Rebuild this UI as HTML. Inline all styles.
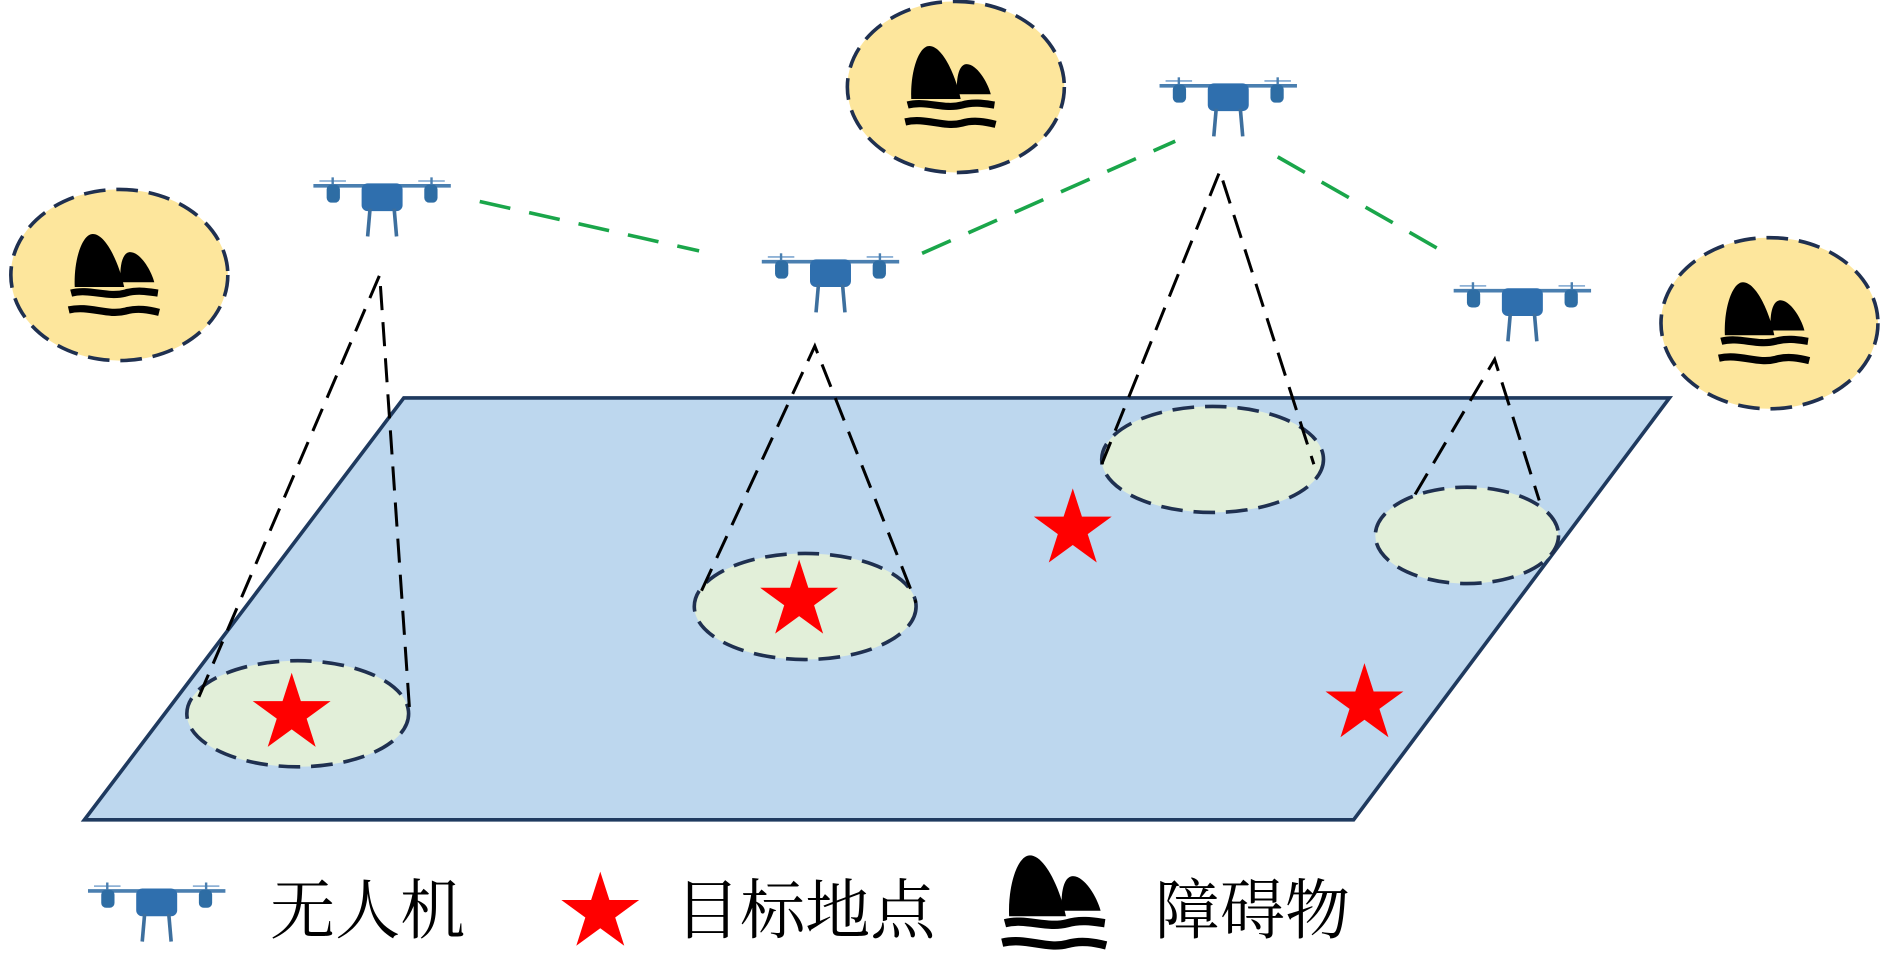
<!DOCTYPE html>
<html><head><meta charset="utf-8"><style>
html,body{margin:0;padding:0;background:#fff;width:1890px;height:955px;overflow:hidden}
svg{display:block}
text{font-family:"Liberation Serif","Noto Serif CJK SC",serif;}
</style></head><body>
<svg width="1890" height="955" viewBox="0 0 1568 792" xmlns="http://www.w3.org/2000/svg">
<defs>
<g id="drone">
  <line x1="-57" y1="-9" x2="57" y2="-9" stroke="#4a7fb0" stroke-width="3"/>
  <line x1="-52" y1="-13" x2="-30" y2="-13" stroke="#8fb2d6" stroke-width="1.5"/>
  <line x1="30" y1="-13" x2="52" y2="-13" stroke="#8fb2d6" stroke-width="1.5"/>
  <line x1="-41" y1="-16" x2="-41" y2="-8" stroke="#4a7fb0" stroke-width="2"/>
  <line x1="41" y1="-16" x2="41" y2="-8" stroke="#4a7fb0" stroke-width="2"/>
  <rect x="-46" y="-10" width="11" height="15" rx="4" fill="#2e6da4"/>
  <rect x="35" y="-10" width="11" height="15" rx="4" fill="#2e6da4"/>
  <rect x="-17" y="-11" width="34" height="23" rx="5" fill="#2f6fae"/>
  <line x1="-10" y1="10" x2="-12" y2="33" stroke="#3d6f9e" stroke-width="3"/>
  <line x1="10" y1="10" x2="12" y2="33" stroke="#3d6f9e" stroke-width="3"/>
</g>
<g id="obst">
  <path d="M-32,7 C-33,-15 -26,-37 -17,-37 C-6,-37 5,-12 9,7 Z" fill="#000"/>
  <path d="M6,3 C5,-12 8,-22 14,-22 C22,-22 31,-8 34,3 Z" fill="#000"/>
  <path d="M-35,12 C-20,8 -5,16 10,12 C20,9 30,11 37,12" fill="none" stroke="#000" stroke-width="6"/>
  <path d="M-37,26 C-20,22 -5,31 10,27 C20,24 30,26 38,28" fill="none" stroke="#000" stroke-width="6"/>
</g>
<polygon id="star" points="0,-34 7.6,-10.5 32.3,-10.5 12.4,4 19.9,27.5 0,13 -19.9,27.5 -12.4,4 -32.3,-10.5 -7.6,-10.5" fill="#ff0000"/>
</defs>

<g stroke="#1f3050" stroke-width="3" stroke-dasharray="18 9" fill="#fde69c">
<ellipse cx="99" cy="228" rx="90" ry="71"/>
<ellipse cx="793" cy="72" rx="90" ry="71"/>
<ellipse cx="1468" cy="268" rx="90" ry="71"/>
</g>
<use href="#obst" x="94" y="231"/>
<use href="#obst" x="788" y="75"/>
<use href="#obst" x="1463" y="271"/>

<polygon points="335,330 1385,330 1123,680 70,680" fill="#bdd7ee" stroke="#1f3a5f" stroke-width="3"/>

<g stroke="#1aa64a" stroke-width="3" stroke-dasharray="26 16" fill="none">
<line x1="398" y1="167" x2="580" y2="208"/>
<line x1="765" y1="210" x2="975" y2="117"/>
<line x1="1060" y1="130" x2="1205" y2="213"/>
</g>

<g stroke="#1f3050" stroke-width="3" stroke-dasharray="18 9" fill="#e2efd9">
<ellipse cx="247" cy="592" rx="92" ry="44"/>
<ellipse cx="668" cy="503" rx="92" ry="44"/>
<ellipse cx="1006" cy="381" rx="92" ry="44"/>
<ellipse cx="1217" cy="444" rx="76" ry="40"/>
</g>

<g stroke="#000" stroke-width="2.5" stroke-dasharray="20 10" fill="none">
<polyline points="165,578 315,228 340,592"/>
<polyline points="582,490 676,287 760,500"/>
<polyline points="914,385 1012,142 1090,385"/>
<polyline points="1174,410 1240,298 1277,415"/>
</g>

<use href="#star" x="242" y="592"/>
<use href="#star" x="663" y="498"/>
<use href="#star" x="890" y="439"/>
<use href="#star" x="1132" y="584"/>

<use href="#drone" x="317" y="163"/>
<use href="#drone" x="689" y="226"/>
<use href="#drone" x="1019" y="80"/>
<use href="#drone" x="1263" y="250"/>

<use href="#drone" x="130" y="748"/>
<text x="224" y="774" font-size="54">无人机</text>
<use href="#star" x="498" y="757"/>
<text x="560" y="774" font-size="54">目标地点</text>
<g transform="translate(874,752) scale(1.15)"><use href="#obst"/></g>
<text x="958" y="774" font-size="54">障碍物</text>
</svg>
</body></html>
